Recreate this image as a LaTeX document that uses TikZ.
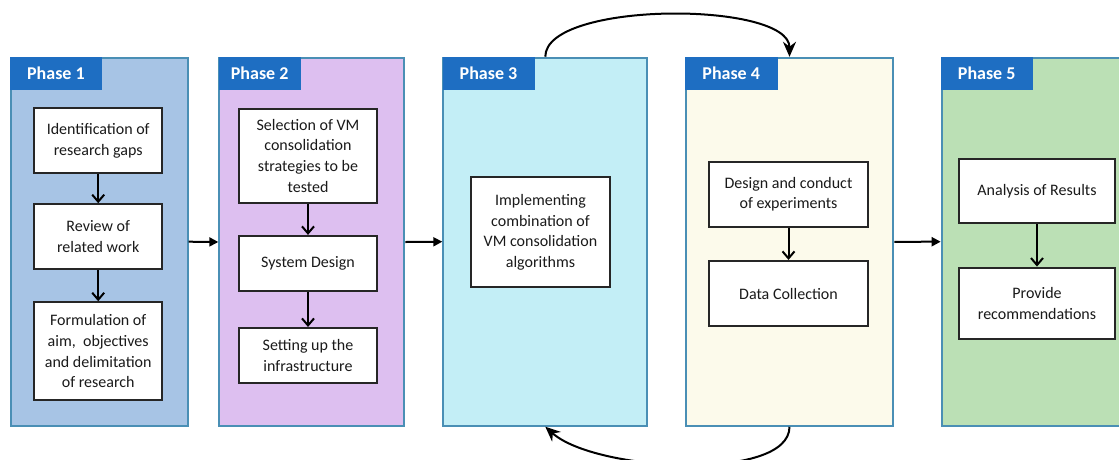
\documentclass[tikz,border=0pt]{standalone}
\usepackage{fontspec}
\setmainfont{Carlito}
\usetikzlibrary{arrows.meta}
\definecolor{hdr}{HTML}{1E6EC2}
\definecolor{frame}{HTML}{4A8FB5}
\definecolor{fillA}{HTML}{A7C4E5}
\definecolor{fillB}{HTML}{DDBFF0}
\definecolor{fillC}{HTML}{C3EEF6}
\definecolor{fillD}{HTML}{FCFAEB}
\definecolor{fillE}{HTML}{BBE0B5}
\definecolor{txt}{HTML}{1A1A1A}
\tikzset{
  phasebox/.style={draw=frame, line width=2pt, minimum height=368pt, inner sep=0pt},
  hdrbox/.style={fill=hdr, text=white, font=\fontsize{18}{20}\selectfont\bfseries, minimum height=33pt, inner sep=0pt, anchor=north west},
  stepbox/.style={draw=black!85, fill=white, line width=2.2pt, text=txt, align=center, font=\fontsize{16}{20.7}\selectfont, inner sep=0pt},
  flow/.style={line width=2pt, -{Straight Barb[length=7pt,width=12pt,line width=2pt]}},
  link/.style={line width=2pt, -{Triangle[length=9pt,width=9pt]}},
  loop/.style={line width=2pt, -{Stealth[length=15pt,width=13pt]}}
}
\begin{document}
\begin{tikzpicture}[x=1pt,y=-1pt]
\clip (0,0) rectangle (1119,459);
\fill[white] (0,0) rectangle (1119,459);
% phase frames
\node[phasebox, fill=fillA, minimum width=177pt] (p1) at (99.2,241.7) {};
\node[phasebox, fill=fillB, minimum width=185pt] (p2) at (311.8,242) {};
\node[phasebox, fill=fillC, minimum width=204pt] (p3) at (545.3,241.7) {};
\node[phasebox, fill=fillD, minimum width=207.6pt] (p4) at (789.5,241.8) {};
\node[phasebox, fill=fillE, minimum width=190pt] (p5) at (1036.7,241.7) {};
% headers
\node[hdrbox, minimum width=92pt] (h1) at (p1.north west) {Phase 1};
\node[hdrbox, minimum width=82.4pt] (h2) at (p2.north west) {Phase 2};
\node[hdrbox, minimum width=92pt] (h3) at (p3.north west) {Phase 3};
\node[hdrbox, minimum width=92.6pt] (h4) at (p4.north west) {Phase 4};
\node[hdrbox, minimum width=91.6pt] (h5) at (p5.north west) {Phase 5};
% phase 1
\node[stepbox, minimum width=128.3pt, minimum height=65pt] (a1) at (98.2,140.8) {Identification of\\research gaps};
\node[stepbox, minimum width=128.3pt, minimum height=65pt] (a2) at (98.2,236.8) {Review of\\related work};
\node[stepbox, minimum width=128.3pt, minimum height=97.7pt] (a3) at (98.2,351.2) {Formulation of\\aim,\ \ objectives\\and delimitation\\of research};
% phase 2
\node[stepbox, minimum width=137.4pt, minimum height=93.7pt] (b1) at (308,155.8) {Selection of VM\\consolidation\\strategies to be\\tested};
\node[stepbox, minimum width=137.4pt, minimum height=55pt] (b2) at (308,263.5) {System Design};
\node[stepbox, minimum width=137.4pt, minimum height=55.3pt] (b3) at (308,355.7) {Setting up the\\infrastructure};
% phase 3
\node[stepbox, minimum width=139pt, minimum height=110pt] (c1) at (540.5,232.3) {Implementing\\combination of\\VM consolidation\\algorithms};
% phase 4
\node[stepbox, minimum width=159pt, minimum height=65pt] (d1) at (788.5,194.2) {Design and conduct\\of experiments};
\node[stepbox, minimum width=159pt, minimum height=65pt] (d2) at (788.5,293.5) {Data Collection};
% phase 5
\node[stepbox, minimum width=156pt, minimum height=64.3pt] (e1) at (1037,191.2) {Analysis of Results};
\node[stepbox, minimum width=156pt, minimum height=71.3pt] (e2) at (1037,303.3) {Provide\\recommendations};
% inner arrows
\draw[flow] (a1.south) -- (a2.north);
\draw[flow] (a2.south) -- (a3.north);
\draw[flow] (b1.south) -- (b2.north);
\draw[flow] (b2.south) -- (b3.north);
\draw[flow] (d1.south) -- (d2.north);
\draw[flow] (e1.south) -- (e2.north);
% phase links
\draw[link] (p1.east) -- (p2.west);
\draw[link] (p2.east) -- (p3.west);
\draw[link] (p4.east) -- (p5.west);
% loops
\draw[loop] (p3.north) .. controls +(0,-56) and +(0,-56) .. (p4.north);
\draw[loop] (p4.south) .. controls +(0,55) and +(50,45) .. (p3.south);
\end{tikzpicture}
\end{document}
